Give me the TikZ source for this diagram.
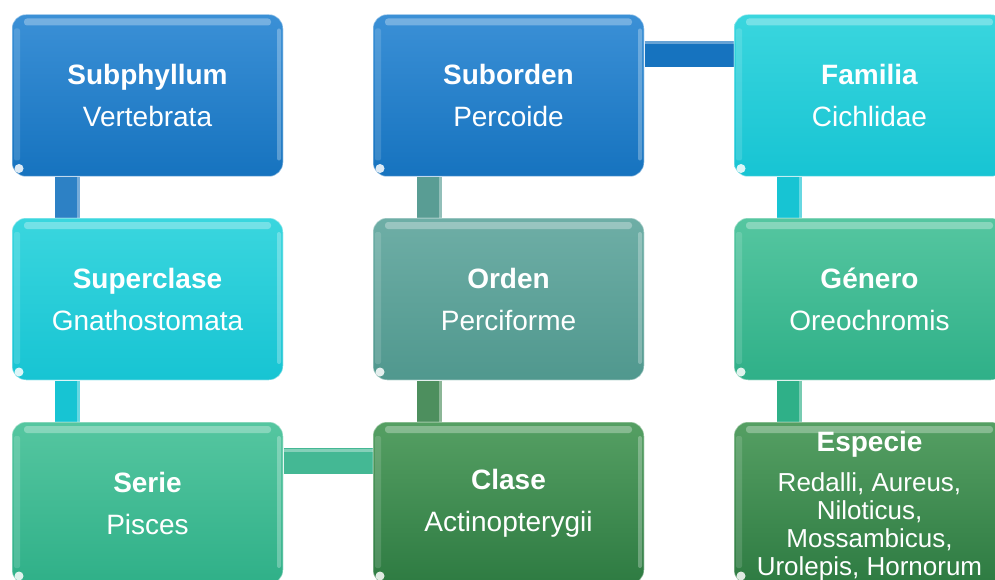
\documentclass[tikz,border=0pt]{standalone}
\usepackage{fontspec}
\setmainfont{Liberation Sans}
\usetikzlibrary{calc}

% palette
\definecolor{blueT}{HTML}{3B90D6}
\definecolor{blueB}{HTML}{1673BF}
\definecolor{cyanT}{HTML}{3AD6DE}
\definecolor{cyanB}{HTML}{17C4D3}
\definecolor{seaT}{HTML}{55C6A0}
\definecolor{seaB}{HTML}{2FB088}
\definecolor{tealT}{HTML}{6EAEA6}
\definecolor{tealB}{HTML}{50988E}
\definecolor{greenT}{HTML}{559F63}
\definecolor{greenB}{HTML}{2E7B42}

\tikzset{
  tile/.style={rounded corners=14pt, minimum width=271pt, minimum height=162pt,
    inner sep=0pt, align=center, text=white, draw=white, draw opacity=.45, line width=1pt,
    font=\fontsize{28}{42}\selectfont,
    path picture={
      % glossy strips along the top and sides
      \fill[white, opacity=.3, rounded corners=3pt]
        ([xshift=12pt,yshift=-4pt]path picture bounding box.north west) rectangle
        ([xshift=-12pt,yshift=-11pt]path picture bounding box.north east);
      \fill[white, opacity=.14, rounded corners=2pt]
        ([xshift=2pt,yshift=-14pt]path picture bounding box.north west) rectangle
        ([xshift=8pt,yshift=16pt]path picture bounding box.south west);
      \fill[white, opacity=.28, rounded corners=2pt]
        ([xshift=-2pt,yshift=-14pt]path picture bounding box.north east) rectangle
        ([xshift=-6pt,yshift=16pt]path picture bounding box.south east);
      \fill[white, opacity=.85]
        ([xshift=7pt,yshift=8pt]path picture bounding box.south west) circle (4.5pt);
    }},
  fillgrad/.style 2 args={top color=#1, bottom color=#2},
  bluetile/.style={tile, fillgrad={blueT}{blueB}},
  cyantile/.style={tile, fillgrad={cyanT}{cyanB}},
  seatile/.style={tile, fillgrad={seaT}{seaB}},
  tealtile/.style={tile, fillgrad={tealT}{tealB}},
  greentile/.style={tile, fillgrad={greenT}{greenB}},
  vlink/.style={line width=25pt, draw=#1},
  hlink/.style={line width=26pt, draw=#1},
  vshine/.style={line width=3pt, draw=white, draw opacity=.35},
}

\begin{document}
\begin{tikzpicture}[x=1pt, y=-1pt]
\useasboundingbox (0,0) rectangle (995,580);
\clip (0,0) rectangle (995,580);

% node centres
\coordinate (p11) at (147.5,95.5);
\coordinate (p12) at (508.5,95.5);
\coordinate (p13) at (869.5,95.5);
\coordinate (p21) at (147.5,299);
\coordinate (p22) at (508.5,299);
\coordinate (p23) at (869.5,299);
\coordinate (p31) at (147.5,503);
\coordinate (p32) at (508.5,503);
\coordinate (p33) at (869.5,503);

% tiles (placed first so the links can be laid by name, then redrawn on top)
\path
  node[bluetile]  (subphyllum) at (p11) {\textbf{Subphyllum}\\Vertebrata}
  node[bluetile]  (suborden)   at (p12) {\textbf{Suborden}\\Percoide}
  node[cyantile]  (familia)    at (p13) {\textbf{Familia}\\Cichlidae}
  node[cyantile]  (superclase) at (p21) {\textbf{Superclase}\\Gnathostomata}
  node[tealtile]  (orden)      at (p22) {\textbf{Orden}\\Perciforme}
  node[seatile]   (genero)     at (p23) {\textbf{Género}\\Oreochromis}
  node[seatile]   (serie)      at (p31) {\textbf{Serie}\\Pisces}
  node[greentile] (clase)      at (p32) {\textbf{Clase}\\Actinopterygii}
  node[greentile] (especie)    at (p33) {};

% links between tiles
\draw[vlink=blueB!90!white]  ([xshift=-80pt]subphyllum.south) -- ([xshift=-80pt]superclase.north);
\draw[vlink=cyanB]           ([xshift=-80pt]superclase.south) -- ([xshift=-80pt]serie.north);
\draw[vlink=tealB!95!white]  ([xshift=-79pt]suborden.south)   -- ([xshift=-79pt]orden.north);
\draw[vlink=greenB!85!white] ([xshift=-79pt]orden.south)      -- ([xshift=-79pt]clase.north);
\draw[vlink=cyanB]           ([xshift=-80pt]familia.south)    -- ([xshift=-80pt]genero.north);
\draw[vlink=seaB]            ([xshift=-80pt]genero.south)     -- ([xshift=-80pt]especie.north);
\draw[hlink=blueB]           ([yshift=-40pt]suborden.north east) -- ([yshift=-40pt]familia.north west);
\draw[hlink=seaB!90!white]   ([yshift=-39.5pt]serie.north east)  -- ([yshift=-39.5pt]clase.north west);

% light edge on each link
\draw[vshine] ([xshift=-69pt]subphyllum.south) -- ([xshift=-69pt]superclase.north);
\draw[vshine] ([xshift=-69pt]superclase.south) -- ([xshift=-69pt]serie.north);
\draw[vshine] ([xshift=-68pt]suborden.south)   -- ([xshift=-68pt]orden.north);
\draw[vshine] ([xshift=-68pt]orden.south)      -- ([xshift=-68pt]clase.north);
\draw[vshine] ([xshift=-69pt]familia.south)    -- ([xshift=-69pt]genero.north);
\draw[vshine] ([xshift=-69pt]genero.south)     -- ([xshift=-69pt]especie.north);
\draw[vshine] ([yshift=-29pt]suborden.north east) -- ([yshift=-29pt]familia.north west);
\draw[vshine] ([yshift=-28.5pt]serie.north east)  -- ([yshift=-28.5pt]clase.north west);

% tiles again, above the link ends
\path
  node[bluetile]  at (p11) {\textbf{Subphyllum}\\Vertebrata}
  node[bluetile]  at (p12) {\textbf{Suborden}\\Percoide}
  node[cyantile]  at (p13) {\textbf{Familia}\\Cichlidae}
  node[cyantile]  at (p21) {\textbf{Superclase}\\Gnathostomata}
  node[tealtile]  at (p22) {\textbf{Orden}\\Perciforme}
  node[seatile]   at (p23) {\textbf{Género}\\Oreochromis}
  node[seatile]   at (p31) {\textbf{Serie}\\Pisces}
  node[greentile] at (p32) {\textbf{Clase}\\Actinopterygii}
  node[greentile] at (p33) {};

% species list, set tighter than the other tiles
\node[anchor=north, inner sep=0pt, align=center, text=white,
      font=\fontsize{26}{28}\selectfont]
  (especietxt) at ([yshift=-10pt]especie.north)
  {{\fontsize{28}{28}\selectfont\bfseries Especie}\\[12pt]
   Redalli, Aureus,\\Niloticus,\\Mossambicus,\\Urolepis, Hornorum};
\end{tikzpicture}
\end{document}
